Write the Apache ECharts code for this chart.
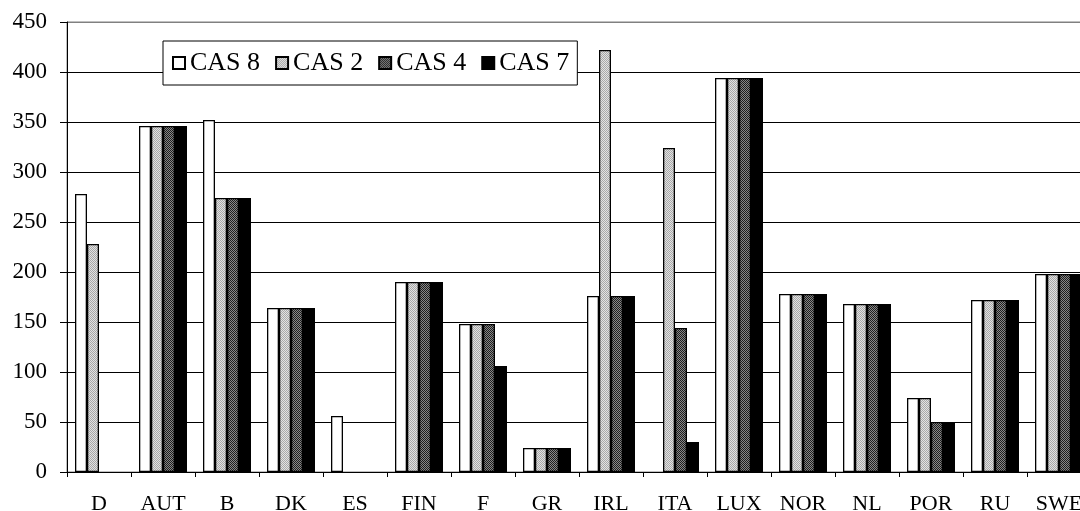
<!DOCTYPE html>
<html>
<head>
<meta charset="utf-8">
<script src="https://cdn.jsdelivr.net/npm/echarts@6/dist/echarts.min.js"></script>
<style>
  html, body { margin: 0; padding: 0; background: #fff; overflow: hidden; }
  #chart { width: 1080px; height: 511px; }
</style>
</head>
<body>
<div id="chart"></div>
<script>
// Country codes along the category axis
const countries = ['D', 'AUT', 'B', 'DK', 'ES', 'FIN', 'F', 'GR', 'IRL', 'ITA', 'LUX', 'NOR', 'NL', 'POR', 'RU', 'SWE'];

// Values per scenario (null = no bar)
const cas8 = [278, 346, 352, 164, 56, 190, 148, 24, 176, null, 394, 178, 168, 74, 172, 198];
const cas2 = [228, 346, 274, 164, null, 190, 148, 24, 422, 324, 394, 178, 168, 74, 172, 198];
const cas4 = [null, 346, 274, 164, null, 190, 148, 24, 176, 144, 394, 178, 168, 50, 172, 198];
const cas7 = [null, 346, 274, 164, null, 190, 106, 24, 176, 30, 394, 178, 168, 50, 172, 198];

const seriesNames = ['CAS 8', 'CAS 2', 'CAS 4', 'CAS 7'];

// Small dithered fill used for the grey bars
function dither(c1, c2) {
  const cv = document.createElement('canvas');
  cv.width = 2; cv.height = 2;
  const ctx = cv.getContext('2d');
  ctx.fillStyle = c1; ctx.fillRect(0, 0, 2, 2);
  ctx.fillStyle = c2; ctx.fillRect(0, 0, 1, 1); ctx.fillRect(1, 1, 1, 1);
  return { image: cv, repeat: 'repeat' };
}

const fills = [
  '#ffffff',
  dither('#e2e2e2', '#a8a8a8'),
  dither('#888888', '#1e1e1e'),
  '#000000'
];

const font = '"Liberation Serif", "Times New Roman", serif';

const chart = echarts.init(document.getElementById('chart'), null, { renderer: 'canvas' });

chart.setOption({
  animation: false,
  backgroundColor: '#ffffff',
  textStyle: { fontFamily: font },
  // plot area runs a little past the right edge of the page
  grid: {
    left: 67, top: 22, width: 1024, height: 450,
    outerBoundsMode: 'none', containLabel: false,
    show: true, borderColor: '#808080', borderWidth: 1, backgroundColor: 'transparent'
  },
  legend: {
    left: 163, top: 41,
    orient: 'horizontal',
    backgroundColor: '#ffffff',
    borderColor: '#000000', borderWidth: 1,
    padding: [9, 8, 9, 9],
    icon: 'rect',
    itemWidth: 12, itemHeight: 12,
    itemGap: 15,
    textStyle: { fontFamily: font, fontSize: 26, color: '#000' },
    data: seriesNames
  },
  xAxis: {
    type: 'category',
    data: countries,
    axisLine: { lineStyle: { color: '#000', width: 1 } },
    axisTick: { show: true, length: 5, lineStyle: { color: '#000' } },
    axisLabel: { color: '#000', fontSize: 22, fontFamily: font, margin: 21, interval: 0 },
    splitLine: { show: false }
  },
  yAxis: {
    type: 'value',
    min: 0, max: 450, interval: 50,
    axisLine: { show: true, lineStyle: { color: '#000', width: 1 } },
    axisTick: { show: true, length: 7, lineStyle: { color: '#000' } },
    axisLabel: { color: '#000', fontSize: 23, fontFamily: font, margin: 20 },
    splitLine: { show: true, lineStyle: { color: ['#000', '#000', '#000', '#000', '#000', '#000', '#000', '#000', '#000', '#808080'], width: 1 } }
  },
  series: [cas8, cas2, cas4, cas7].map((d, i) => ({
    name: seriesNames[i],
    type: 'bar',
    data: d,
    barGap: '0%',
    barCategoryGap: '25%',
    itemStyle: { color: fills[i], borderColor: '#000', borderWidth: 1.3 }
  }))
});
</script>
</body>
</html>
